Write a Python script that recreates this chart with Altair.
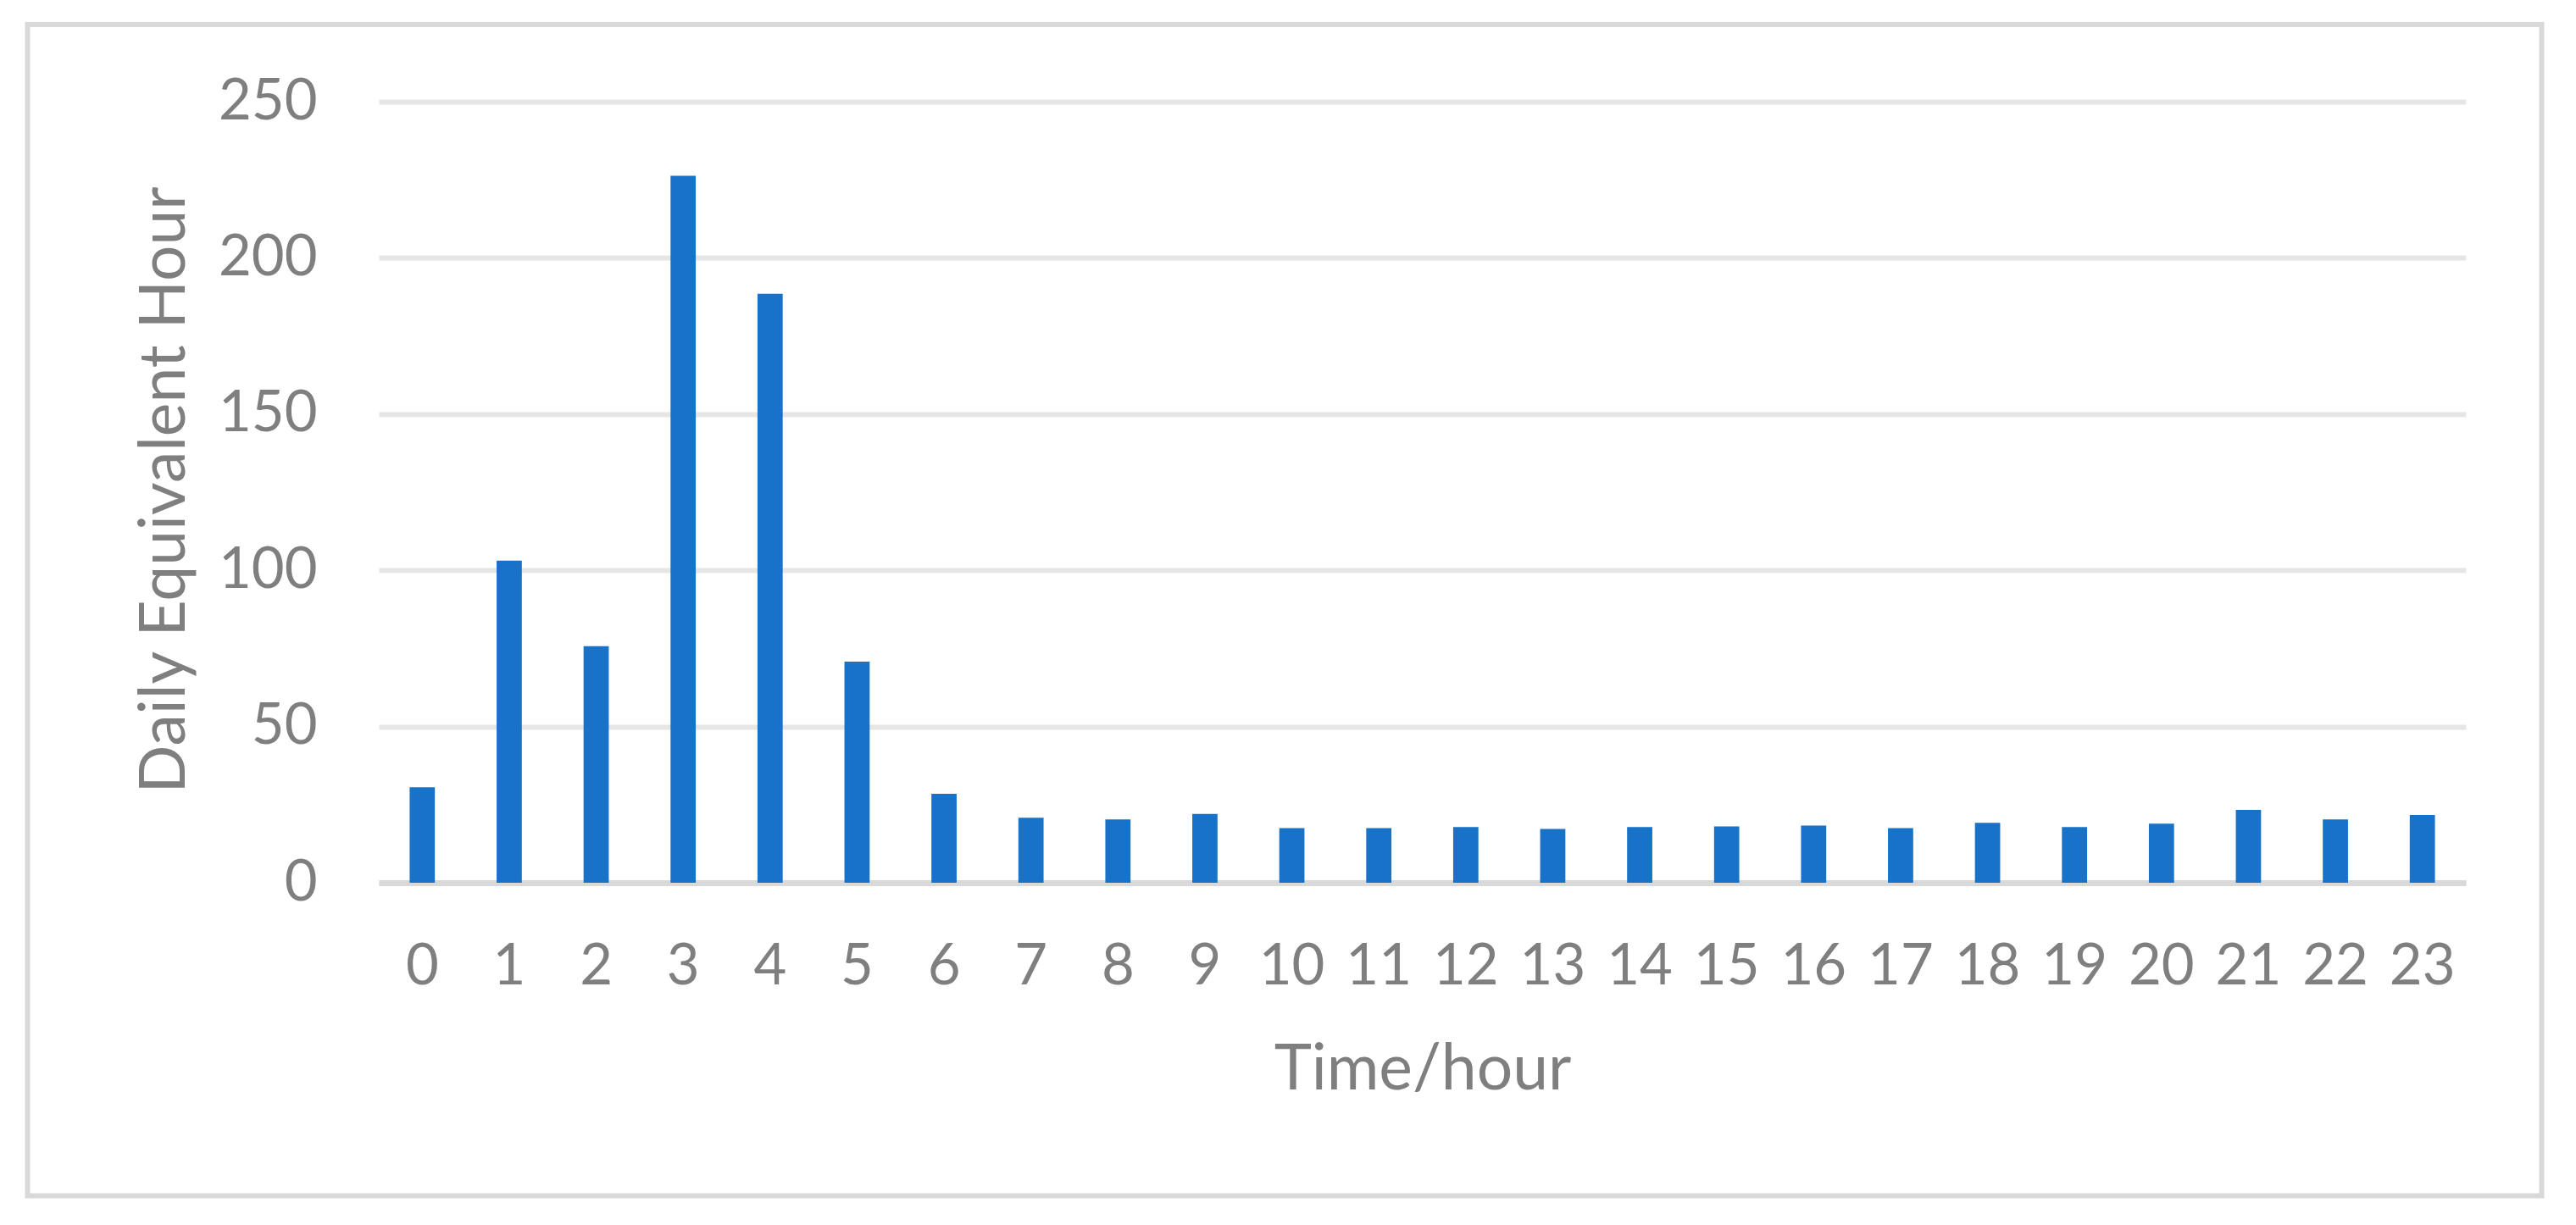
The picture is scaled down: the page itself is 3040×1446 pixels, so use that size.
import altair as alt
import pandas as pd

hours = [str(h) for h in range(24)]
values = [30.6, 103.1, 75.7, 226.3, 188.5, 70.8, 28.5, 20.8, 20.3, 22.0,
          17.5, 17.5, 17.8, 17.2, 17.8, 18.0, 18.3, 17.5, 19.2, 17.8,
          18.9, 23.3, 20.3, 21.7]
y_ticks = [0, 50, 100, 150, 200, 250]

df = pd.DataFrame({"hour": hours, "value": values})

FONT = "Lato"
GRAY = "#7f7f7f"
W, H = 2463, 922

bars = alt.Chart(df).mark_bar(color="#1873c8").encode(
    x=alt.X("hour:N", sort=hours,
            scale=alt.Scale(paddingInner=0.71, paddingOuter=0.355),
            axis=alt.Axis(title="Time/hour", labelAngle=0, labelFont=FONT,
                          labelFontSize=67, labelColor=GRAY,
                          labelBaseline="alphabetic", labelPadding=119,
                          ticks=False, tickSize=0, domain=True,
                          domainColor="#d9d9d9", domainWidth=7,
                          titleFont=FONT, titleFontSize=75, titleFontWeight="normal",
                          titleColor=GRAY, titleBaseline="alphabetic",
                          titleX=W / 2, titleY=243, titleAlign="center")),
    y=alt.Y("value:Q", scale=alt.Scale(domain=[0, 250], nice=False),
            axis=alt.Axis(title="Daily Equivalent Hour", values=y_ticks,
                          labelFont=FONT, labelFontSize=67, labelColor=GRAY,
                          labelPadding=73, ticks=False, tickSize=0, domain=False,
                          grid=True, gridColor="#e6e6e6", gridWidth=6,
                          titleFont=FONT, titleFontSize=75, titleFontWeight="normal",
                          titleColor=GRAY, titleAngle=-90, titleBaseline="alphabetic",
                          titleX=-230, titleY=H / 2 - 3, titleAlign="center")),
)

frame = alt.Chart(pd.DataFrame({"k": [0]})).mark_rect(
    fill=None, stroke="#d9d9d9", strokeWidth=6
).encode(
    x=alt.value(-414.5), x2=alt.value(2552.5),
    y=alt.value(-91), y2=alt.value(1291.5),
)

chart = alt.layer(bars, frame).properties(
    width=W, height=H,
    autosize=alt.AutoSizeParams(type="none"),
    padding={"left": 439, "top": 112, "right": 110, "bottom": 380},
).configure(background="white").configure_view(stroke=None, strokeWidth=0)

chart.save("out.html", embed_options={"renderer": "svg", "actions": False})
